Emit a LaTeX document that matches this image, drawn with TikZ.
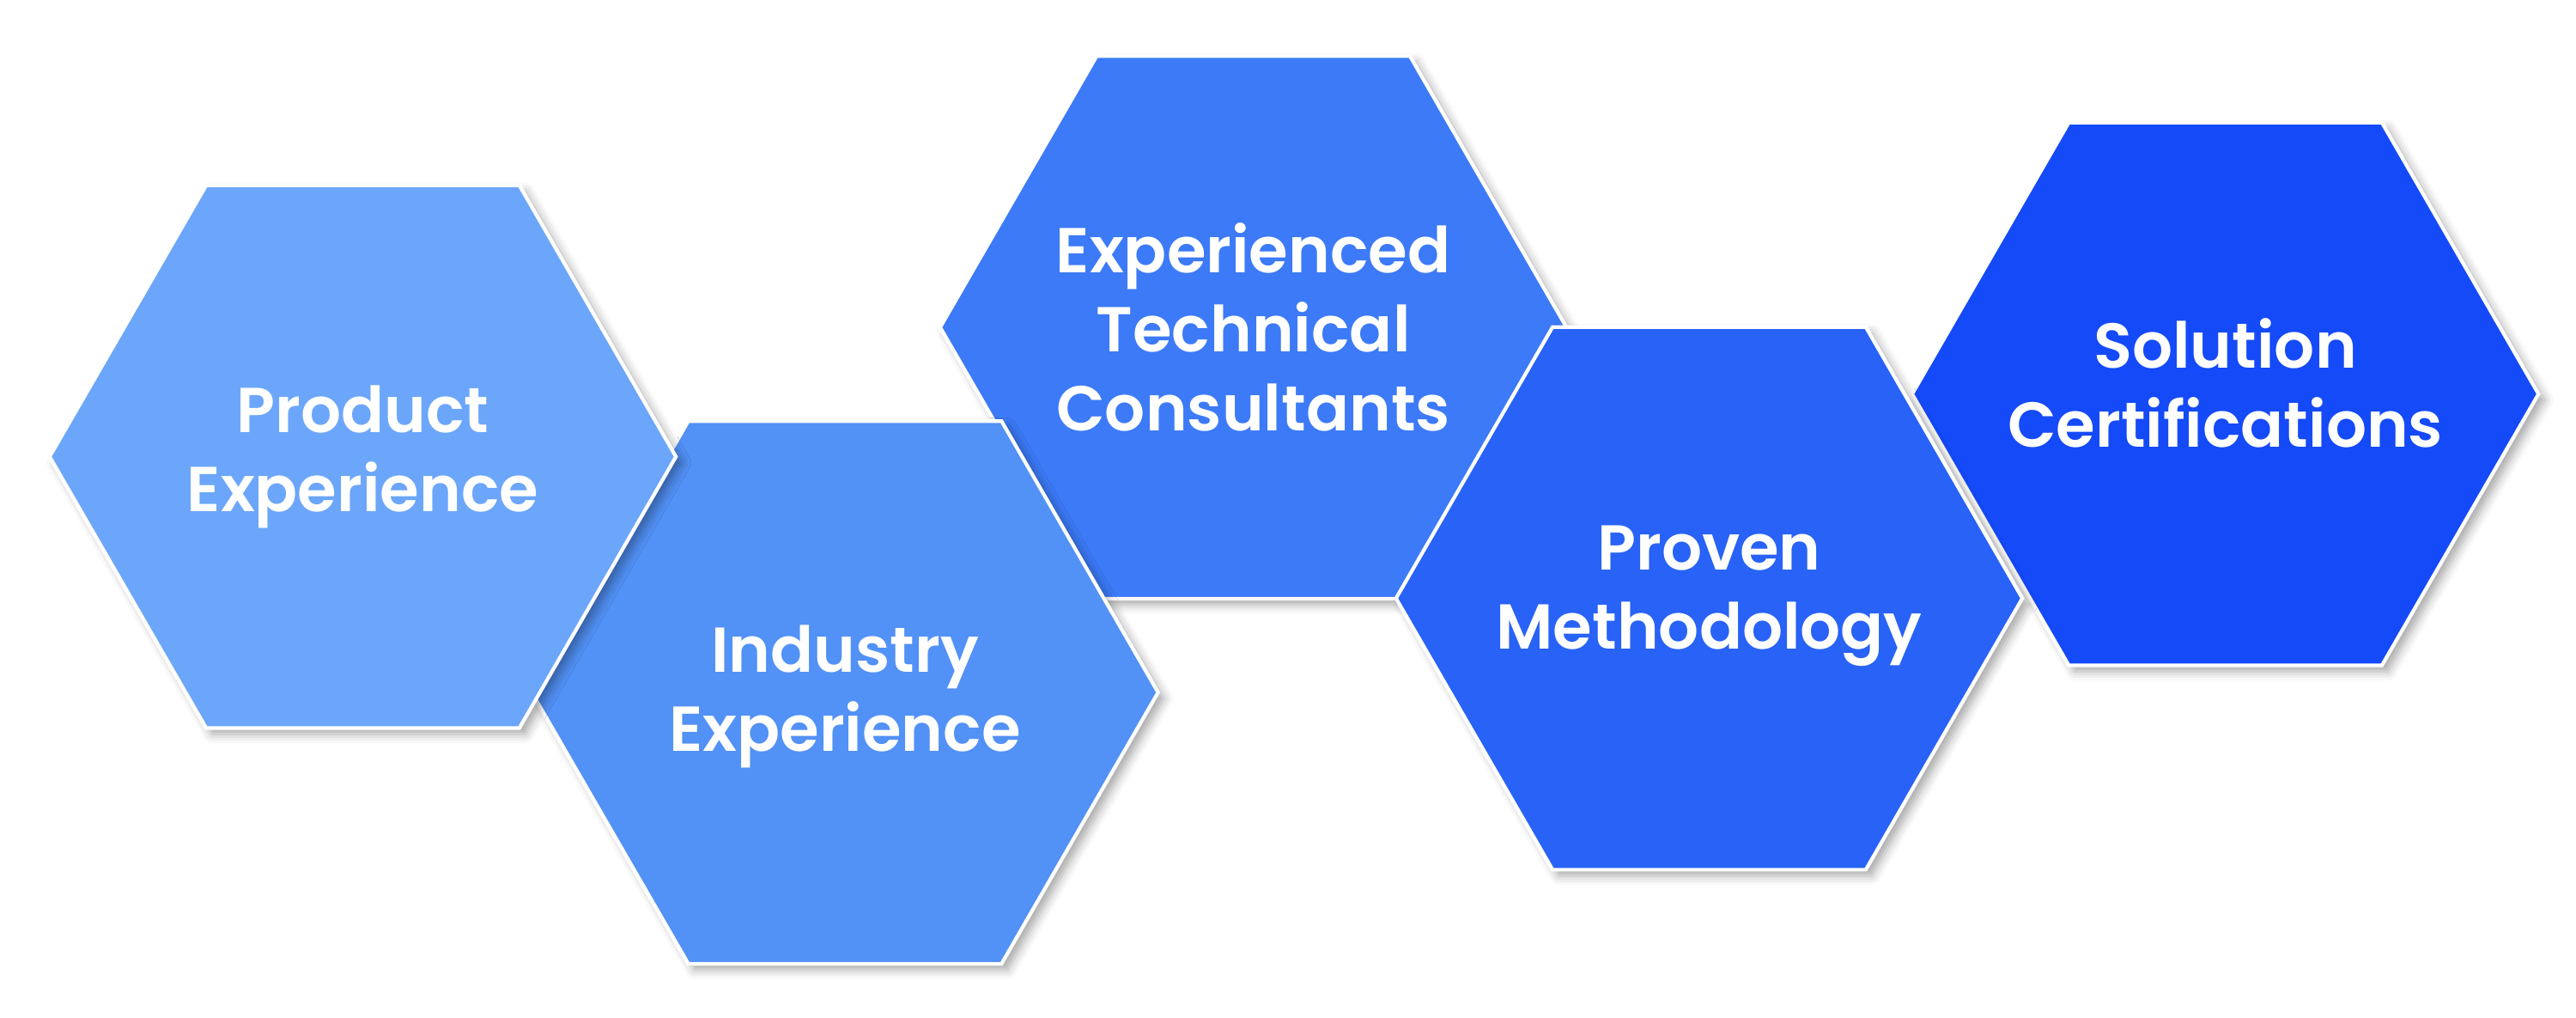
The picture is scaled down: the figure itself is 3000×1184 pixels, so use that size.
\documentclass[tikz,border=0pt]{standalone}
\usepackage{fontspec}
\newfontfamily\hexfont{Poppins SemiBold}
\usetikzlibrary{shapes.geometric,shadows.blur}
\definecolor{hexA}{RGB}{108,166,250}
\definecolor{hexB}{RGB}{82,145,246}
\definecolor{hexC}{RGB}{60,122,247}
\definecolor{hexD}{RGB}{40,98,246}
\definecolor{hexE}{RGB}{21,74,248}
\begin{document}
\begin{tikzpicture}[x=0.01cm, y=0.01cm,
  hexa/.style={regular polygon, regular polygon sides=6, minimum size=7.29cm, inner sep=0pt,
    draw=white, line width=1.2pt,
    blur shadow={shadow xshift=2pt, shadow yshift=-2pt, shadow opacity=35, shadow blur radius=3pt}},
  hextext/.style={text=white, align=center, inner sep=0pt,
    font=\hexfont\fontsize{21}{26.2}\selectfont}]
\useasboundingbox (0,0) rectangle (3000,-1184);
\node[hexa, fill=hexC, label={[hextext]center:Experienced\\Technical\\Consultants}] (consultants) at (1459.6,-381) {};
\node[hexa, fill=hexB, label={[hextext, yshift=-0.05cm]center:Industry\\Experience}] (industry) at (984,-806) {};
\node[hexa, fill=hexA, label={[hextext]center:Product\\Experience}] (product) at (422.5,-531.6) {};
\node[hexa, fill=hexE, label={[hextext, yshift=0.13cm]center:Solution\\Certifications}] (certs) at (2591.6,-458.6) {};
\node[hexa, fill=hexD, label={[hextext, yshift=0.03cm]center:Proven\\Methodology}] (method) at (1990.5,-696.5) {};
\end{tikzpicture}
\end{document}
